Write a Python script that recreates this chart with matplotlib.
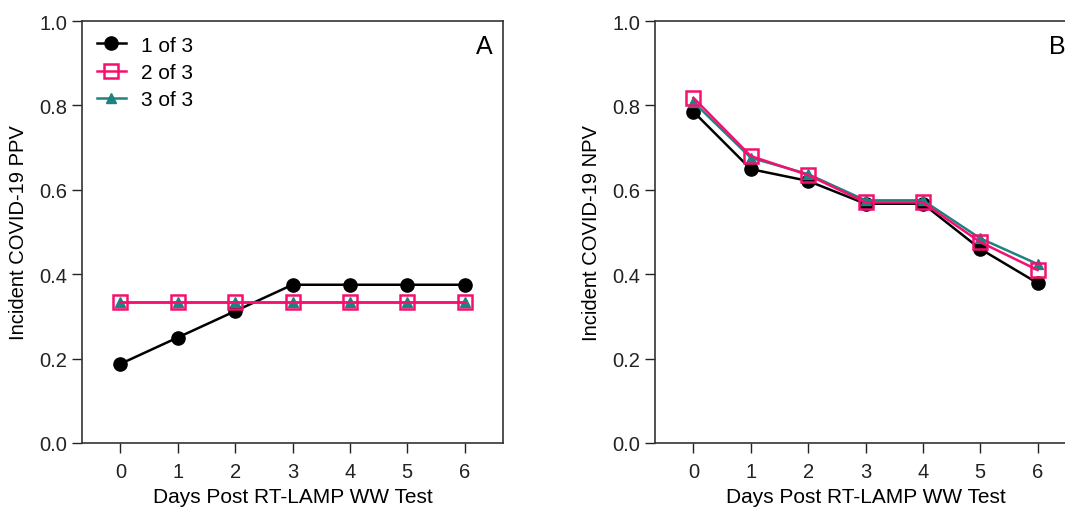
import matplotlib.pyplot as plt

plt.rcParams['font.family'] = ['Liberation Sans', 'DejaVu Sans']

days = [0, 1, 2, 3, 4, 5, 6]

ppv_1of3 = [0.1875, 0.25, 0.3125, 0.375, 0.375, 0.375, 0.375]
ppv_2of3 = [0.333, 0.333, 0.333, 0.333, 0.333, 0.333, 0.333]
ppv_3of3 = [0.333, 0.333, 0.333, 0.333, 0.333, 0.333, 0.333]

npv_1of3 = [0.785, 0.649, 0.621, 0.567, 0.567, 0.460, 0.379]
npv_2of3 = [0.818, 0.680, 0.635, 0.570, 0.570, 0.476, 0.410]
npv_3of3 = [0.808, 0.676, 0.637, 0.575, 0.575, 0.485, 0.424]

labels = ['1 of 3', '2 of 3', '3 of 3']
black = 'black'
pink = '#F5106F'
teal = '#1E8282'


def draw_panel(ax, s1, s2, s3, ylabel, letter, legend=False):
    ax.plot(days, s1, '-o', color=black, lw=1.8, ms=9.5, label=labels[0], zorder=3)
    ax.plot(days, s3, '-^', color=teal, lw=1.8, ms=7.5, label=labels[2], zorder=4)
    ax.plot(days, s2, '-s', color=pink, lw=1.8, ms=9.5, mfc='none', mew=1.8,
            label=labels[1], zorder=5)
    ax.set_xlim(-0.67, 6.67)
    ax.set_ylim(0, 1.0)
    ax.set_xticks(days)
    ax.set_yticks([0.0, 0.2, 0.4, 0.6, 0.8, 1.0])
    ax.set_yticklabels(['0.0', '0.2', '0.4', '0.6', '0.8', '1.0'])
    ax.tick_params(direction='out', length=7, width=1, labelsize=14.5, colors='#222222')
    ax.tick_params(axis='x', pad=7)
    for sp in ax.spines.values():
        sp.set_color('#333333')
        sp.set_linewidth(1.2)
    ax.set_xlabel('Days Post RT-LAMP WW Test', fontsize=15, labelpad=4)
    ax.set_ylabel(ylabel, fontsize=14.5, labelpad=8)
    ax.text(0.955, 0.94, letter, transform=ax.transAxes, fontsize=18,
            ha='center', va='center')
    if legend:
        h, l = ax.get_legend_handles_labels()
        order = [0, 2, 1]
        ax.legend([h[i] for i in order], [l[i] for i in order],
                  loc='upper left', frameon=False, fontsize=15,
                  handlelength=1.4, handletextpad=0.75, labelspacing=0.4,
                  bbox_to_anchor=(-0.01, 1.01))


fig = plt.figure(figsize=(10.65, 5.10), dpi=100)
ax1 = fig.add_axes([82 / 1065, 66 / 510, 421 / 1065, 422 / 510])
ax2 = fig.add_axes([655 / 1065, 66 / 510, 421 / 1065, 422 / 510])

draw_panel(ax1, ppv_1of3, ppv_2of3, ppv_3of3, 'Incident COVID-19 PPV', 'A', legend=True)
draw_panel(ax2, npv_1of3, npv_2of3, npv_3of3, 'Incident COVID-19 NPV', 'B')

fig.savefig('out.png', dpi=100)
